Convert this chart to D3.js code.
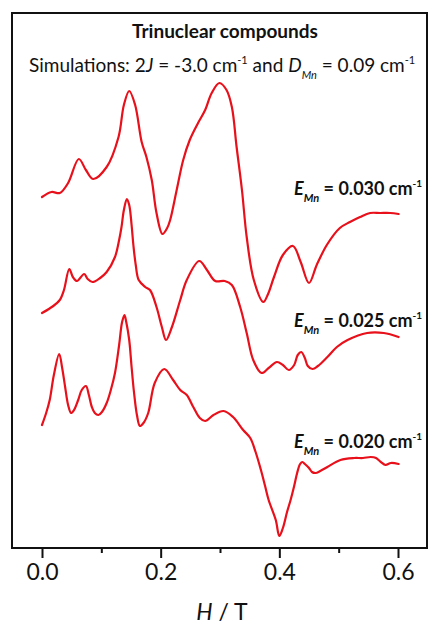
<!DOCTYPE html>
<html>
<head>
<meta charset="utf-8">
<script src="https://cdn.jsdelivr.net/npm/d3@7"></script>
<style>
  html, body { margin: 0; padding: 0; background: #fff; }
  svg { display: block; }
  text { font-family: Lato, "Open Sans", sans-serif; fill: #111; }
</style>
</head>
<body>
<svg id="chart" width="428" height="626"></svg>
<script>
// Simulated EPR derivative spectra, field H in tesla, signal in arbitrary units.
// E_Mn = 0.030 cm-1
const fieldA = [0.000,0.016,0.030,0.044,0.062,0.074,0.086,0.109,0.129,0.138,0.147,0.157,0.168,0.176,0.185,0.193,0.203,0.211,0.216,0.227,0.238,0.249,0.263,0.275,0.286,0.299,0.311,0.320,0.328,0.337,0.345,0.357,0.373,0.381,0.391,0.406,0.423,0.436,0.450,0.463,0.480,0.502,0.519,0.536,0.553,0.570,0.587,0.601];
const signalA = [-0.02,0.03,0.02,0.12,0.36,0.25,0.16,0.28,0.58,0.90,1.04,0.90,0.53,0.38,0.15,-0.18,-0.39,-0.33,-0.25,0.05,0.35,0.55,0.72,0.85,1.02,1.12,1.05,0.88,0.48,0.05,-0.42,-0.85,-1.07,-0.99,-0.82,-0.60,-0.51,-0.67,-0.88,-0.70,-0.50,-0.33,-0.27,-0.22,-0.18,-0.18,-0.18,-0.19];

// E_Mn = 0.025 cm-1
const fieldB = [0.000,0.019,0.030,0.037,0.046,0.052,0.059,0.071,0.077,0.085,0.098,0.109,0.123,0.130,0.134,0.138,0.143,0.147,0.151,0.154,0.158,0.163,0.174,0.182,0.193,0.202,0.209,0.219,0.233,0.244,0.265,0.278,0.292,0.308,0.320,0.334,0.345,0.356,0.370,0.382,0.396,0.406,0.416,0.425,0.431,0.437,0.443,0.448,0.456,0.465,0.481,0.497,0.515,0.548,0.576,0.601];
const signalB = [0.02,0.09,0.15,0.25,0.46,0.38,0.34,0.41,0.36,0.33,0.37,0.43,0.58,0.75,0.88,1.05,1.16,1.10,0.90,0.70,0.50,0.35,0.28,0.25,0.08,-0.12,-0.25,-0.12,0.15,0.35,0.54,0.45,0.34,0.34,0.30,0.08,-0.18,-0.45,-0.58,-0.53,-0.47,-0.50,-0.55,-0.50,-0.40,-0.37,-0.43,-0.51,-0.54,-0.51,-0.42,-0.32,-0.25,-0.18,-0.18,-0.22];

// E_Mn = 0.020 cm-1
const fieldC = [0.000,0.007,0.013,0.020,0.029,0.034,0.039,0.044,0.049,0.054,0.061,0.067,0.074,0.079,0.084,0.089,0.095,0.101,0.109,0.116,0.123,0.130,0.135,0.139,0.142,0.147,0.151,0.155,0.160,0.165,0.171,0.179,0.190,0.206,0.221,0.233,0.244,0.255,0.266,0.275,0.289,0.306,0.322,0.339,0.351,0.360,0.369,0.376,0.382,0.394,0.400,0.406,0.413,0.419,0.425,0.430,0.435,0.439,0.443,0.450,0.455,0.461,0.469,0.481,0.503,0.526,0.541,0.554,0.563,0.571,0.579,0.588,0.601];
const signalC = [0.00,0.12,0.25,0.50,0.71,0.57,0.38,0.20,0.12,0.15,0.25,0.35,0.39,0.30,0.18,0.12,0.10,0.13,0.22,0.35,0.52,0.80,1.03,1.10,1.03,0.85,0.58,0.33,0.10,-0.01,0.02,0.12,0.42,0.56,0.45,0.35,0.30,0.18,0.07,0.04,0.10,0.14,0.08,-0.05,-0.13,-0.27,-0.45,-0.61,-0.75,-0.95,-1.11,-1.03,-0.87,-0.75,-0.61,-0.48,-0.39,-0.37,-0.39,-0.43,-0.47,-0.48,-0.46,-0.42,-0.35,-0.33,-0.33,-0.32,-0.33,-0.37,-0.40,-0.38,-0.39];

const seriesFields = [fieldA, fieldB, fieldC];
const seriesSignals = [signalA, signalB, signalC];
const seriesOffsets = [2.3, 1.1, 0];
const seriesLabels = ["0.030", "0.025", "0.020"];

const xTicks = [0, 0.2, 0.4, 0.6];
const xMinorTicks = [0.1, 0.3, 0.5];
const xTickLabels = ["0.0", "0.2", "0.4", "0.6"];

const svg = d3.select("#chart");
const frame = { left: 12, right: 427, top: 13, bottom: 548 };

const x = d3.scaleLinear().domain([0, 0.6]).range([42, 398]);
const y = d3.scaleLinear().domain([-1.23, 4.12]).range([frame.bottom, frame.top]);

const red = "#e8101a";

// spectra
const line = d3.line()
  .x(d => x(d[0]))
  .y(d => y(d[1]))
  .curve(d3.curveCatmullRom.alpha(0.5));

seriesFields.forEach((f, i) => {
  const pts = f.map((h, k) => [h, seriesSignals[i][k] + seriesOffsets[i]]);
  svg.append("path")
    .datum(pts)
    .attr("d", line)
    .attr("fill", "none")
    .attr("stroke", red)
    .attr("stroke-width", 2.2)
    .attr("stroke-linejoin", "round")
    .attr("stroke-linecap", "round");
});

// x axis: major and minor ticks pointing outward
const axisG = svg.append("g").attr("transform", `translate(0,${frame.bottom})`);
axisG.call(d3.axisBottom(x).tickValues(xTicks).tickSize(10)
  .tickFormat((d, i) => xTickLabels[i]).tickPadding(6));
axisG.append("g").call(d3.axisBottom(x).tickValues(xMinorTicks).tickSize(5).tickFormat(""));
axisG.selectAll(".domain").remove();
axisG.selectAll("line").attr("stroke", "#111").attr("stroke-width", 2);
axisG.selectAll("text")
  .style("font-family", "Lato, 'Open Sans', sans-serif")
  .style("font-size", "23px")
  .attr("fill", "#111");

// frame
svg.append("rect")
  .attr("x", frame.left).attr("y", frame.top)
  .attr("width", frame.right - frame.left).attr("height", frame.bottom - frame.top)
  .attr("fill", "none").attr("stroke", "#111").attr("stroke-width", 2);

// axis title
const xt = svg.append("text")
  .attr("x", 222).attr("y", 620)
  .attr("text-anchor", "middle")
  .style("font-size", "23px");
xt.append("tspan").style("font-style", "italic").text("H");
xt.append("tspan").text(" / T");

// titles
svg.append("text")
  .attr("x", 225).attr("y", 38)
  .attr("text-anchor", "middle")
  .style("font-size", "19px").style("font-weight", "bold")
  .text("Trinuclear compounds");

const sub = svg.append("text")
  .attr("x", 29).attr("y", 71.5)
  .style("font-size", "19px");
sub.append("tspan").text("Simulations: 2");
sub.append("tspan").style("font-style", "italic").text("J");
sub.append("tspan").text(" = -3.0 cm");
sub.append("tspan").attr("dy", -8).style("font-size", "11px").text("-1");
sub.append("tspan").attr("dy", 8).text(" and ");
sub.append("tspan").style("font-style", "italic").text("D");
sub.append("tspan").attr("dy", 7).style("font-size", "11px").style("font-style", "italic").text("Mn");
sub.append("tspan").attr("dy", -7).text(" = 0.09 cm");
sub.append("tspan").attr("dy", -8).style("font-size", "11px").text("-1");

// series labels
const labelBaselines = [195, 326.5, 448];
seriesLabels.forEach((v, i) => {
  const t = svg.append("text")
    .attr("x", 294).attr("y", labelBaselines[i])
    .style("font-size", "18px").style("font-weight", "bold");
  t.append("tspan").style("font-style", "italic").text("E");
  t.append("tspan").attr("dy", 7).style("font-size", "11px").style("font-style", "italic").text("Mn");
  t.append("tspan").attr("dy", -7).text(` = ${v} cm`);
  t.append("tspan").attr("dy", -8).style("font-size", "10px").text("-1");
});
</script>
</body>
</html>
